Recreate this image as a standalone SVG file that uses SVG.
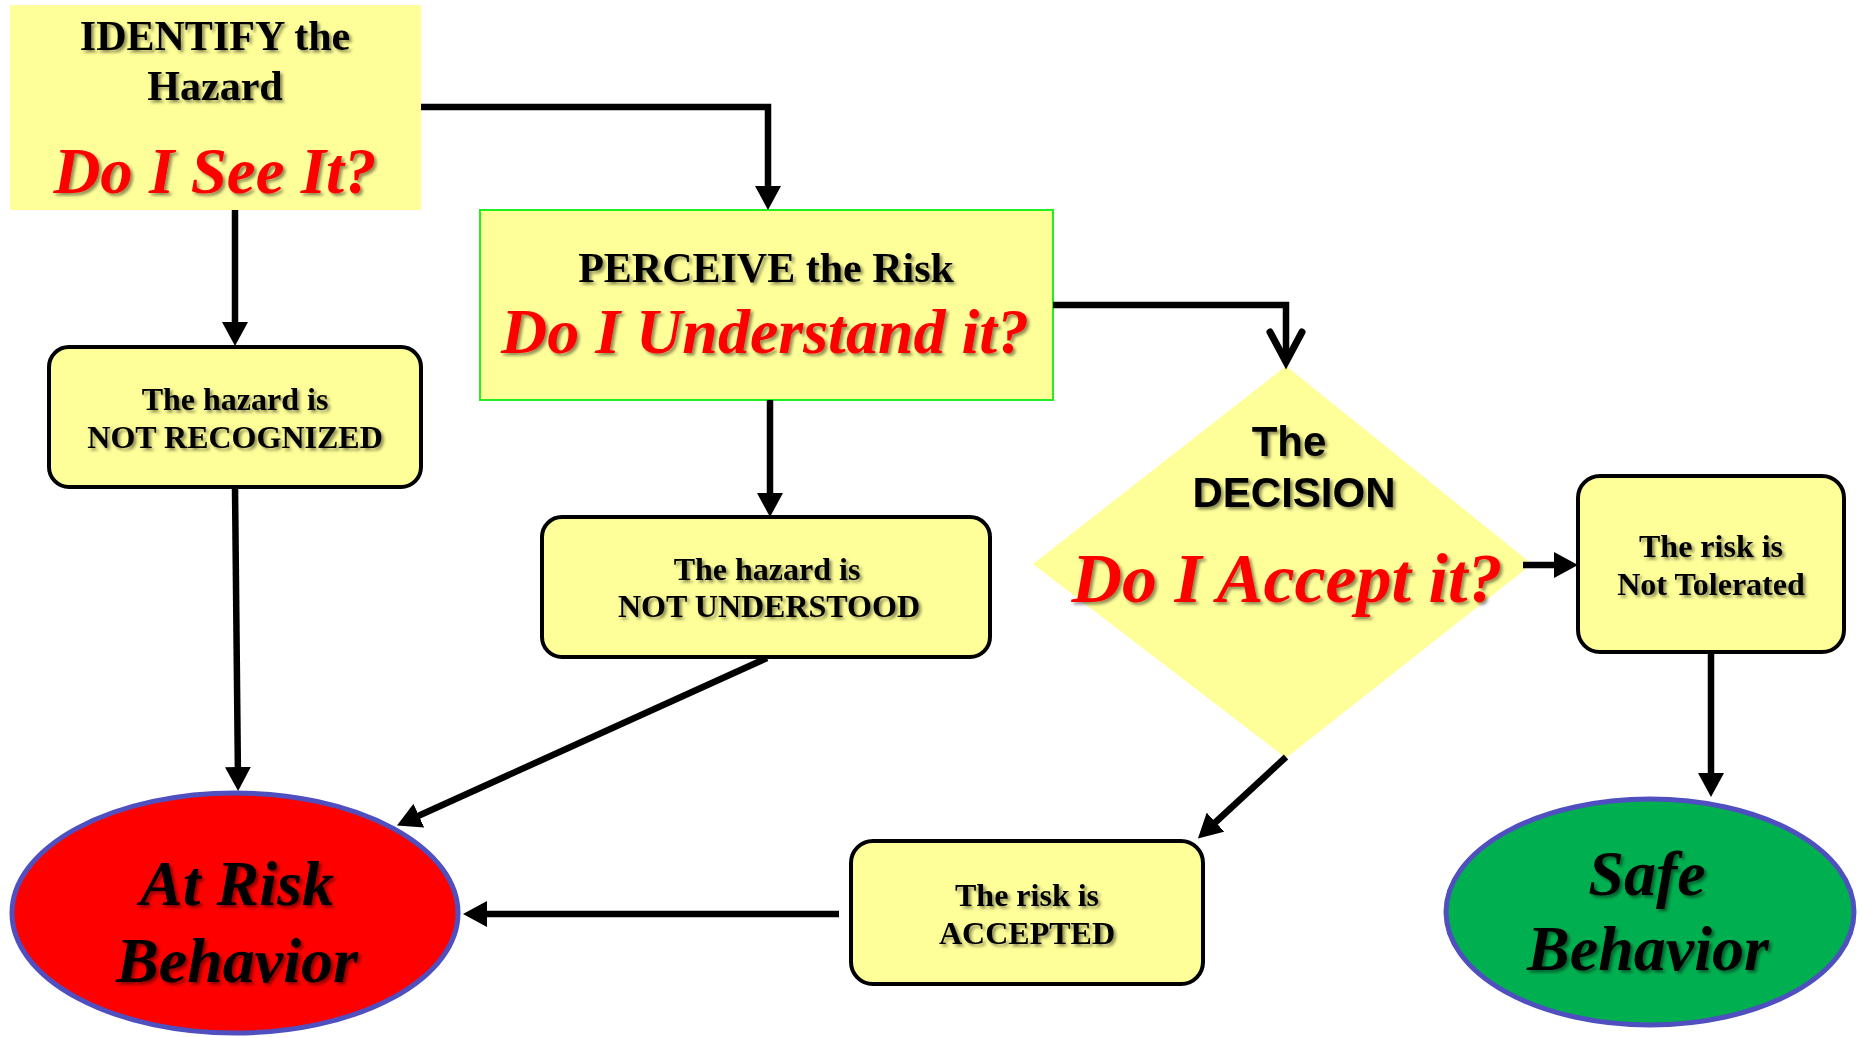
<svg xmlns="http://www.w3.org/2000/svg" width="1858" height="1037" viewBox="0 0 1858 1037">
<defs>
<filter id="sh" x="-10%" y="-20%" width="130%" height="150%">
<feDropShadow dx="2.5" dy="2.5" stdDeviation="1.5" flood-color="#000" flood-opacity="0.45"/>
</filter>
<marker id="ah" viewBox="0 0 24 26" refX="13" refY="13" markerWidth="24" markerHeight="26" markerUnits="userSpaceOnUse" orient="auto">
<path d="M0,0 L24,13 L0,26 z" fill="#000"/>
</marker>
<marker id="open" viewBox="-40 -25 46 50" refX="0" refY="0" markerWidth="46" markerHeight="50" markerUnits="userSpaceOnUse" orient="auto" overflow="visible">
<path d="M-30,-16 L0,0 L-30,16" fill="none" stroke="#000" stroke-width="7" stroke-linecap="round" stroke-linejoin="miter"/>
</marker>
</defs>
<style>
.box{fill:#FFFF99;stroke:#000;stroke-width:4}
.t{font-family:"Liberation Serif","Times New Roman",serif;font-weight:bold;text-anchor:middle;fill:#000;filter:url(#sh)}
.s{font-size:32px}
.h{font-size:42px}
.q{font-style:italic;fill:#FF0000}
.b{font-style:italic;font-size:64px}
.ar{font-family:"Liberation Sans",Arial,sans-serif;font-weight:bold;font-size:42px;text-anchor:middle;fill:#000;filter:url(#sh)}
.c{fill:none;stroke:#000;stroke-width:6.5;marker-end:url(#ah)}
.ell{stroke:#4F4FBF;stroke-width:5}
</style>

<g id="identify">
<rect x="10" y="5" width="411" height="205" fill="#FFFF99"/>
<text class="t h" x="215" y="50">IDENTIFY the</text>
<text class="t h" x="215" y="100">Hazard</text>
<text class="t q" x="215" y="193" font-size="65">Do I See It?</text>
</g>

<g id="perceive">
<rect x="480" y="210" width="573" height="190" fill="#FFFF99" stroke="#22EE22" stroke-width="2"/>
<text class="t h" x="766" y="282">PERCEIVE the Risk</text>
<text class="t q" x="765" y="353" font-size="64">Do I Understand it?</text>
</g>

<g id="not-recognized">
<rect class="box" x="49" y="347" width="372" height="140" rx="20"/>
<text class="t s" x="235" y="410">The hazard is</text>
<text class="t s" x="235" y="448">NOT RECOGNIZED</text>
</g>

<g id="not-understood">
<rect class="box" x="542" y="517" width="448" height="140" rx="20"/>
<text class="t s" x="767" y="580">The hazard is</text>
<text class="t s" x="769" y="617">NOT UNDERSTOOD</text>
</g>

<g id="decision">
<polygon points="1286,366 1532,564 1286,758 1033,564" fill="#FFFF99"/>
<text class="ar" x="1289" y="456">The</text>
<text class="ar" x="1294" y="507">DECISION</text>
<text class="t q" x="1287" y="602" font-size="70">Do I Accept it?</text>
</g>

<g id="not-tolerated">
<rect class="box" x="1578" y="476" width="266" height="176" rx="22"/>
<text class="t s" x="1711" y="557">The risk is</text>
<text class="t s" x="1711" y="595">Not Tolerated</text>
</g>

<g id="accepted">
<rect class="box" x="851" y="841" width="352" height="143" rx="22"/>
<text class="t s" x="1027" y="906">The risk is</text>
<text class="t s" x="1027" y="944">ACCEPTED</text>
</g>

<g id="at-risk">
<ellipse class="ell" cx="235" cy="913" rx="223" ry="120" fill="#FF0000"/>
<text class="t b" x="237" y="905">At Risk</text>
<text class="t b" x="237" y="982">Behavior</text>
</g>

<g id="safe">
<ellipse class="ell" cx="1650" cy="912" rx="204" ry="113" fill="#00B050"/>
<text class="t b" x="1647" y="895">Safe</text>
<text class="t b" x="1648" y="970">Behavior</text>
</g>

<g id="connectors">
<path class="c" d="M421,107 H768 V199"/>
<path class="c" d="M235,210 V335"/>
<path class="c" d="M235,487 L238,780"/>
<path class="c" d="M770,400 V506"/>
<path class="c" d="M767,658 L407,821"/>
<path d="M1053,305 H1286 V362" fill="none" stroke="#000" stroke-width="6.5" marker-end="url(#open)"/>
<path class="c" d="M1523,565 H1567"/>
<path class="c" d="M1711,652 V786"/>
<path class="c" d="M1286,757 L1206,831"/>
<path class="c" d="M839,914 H474"/>
</g>
</svg>
